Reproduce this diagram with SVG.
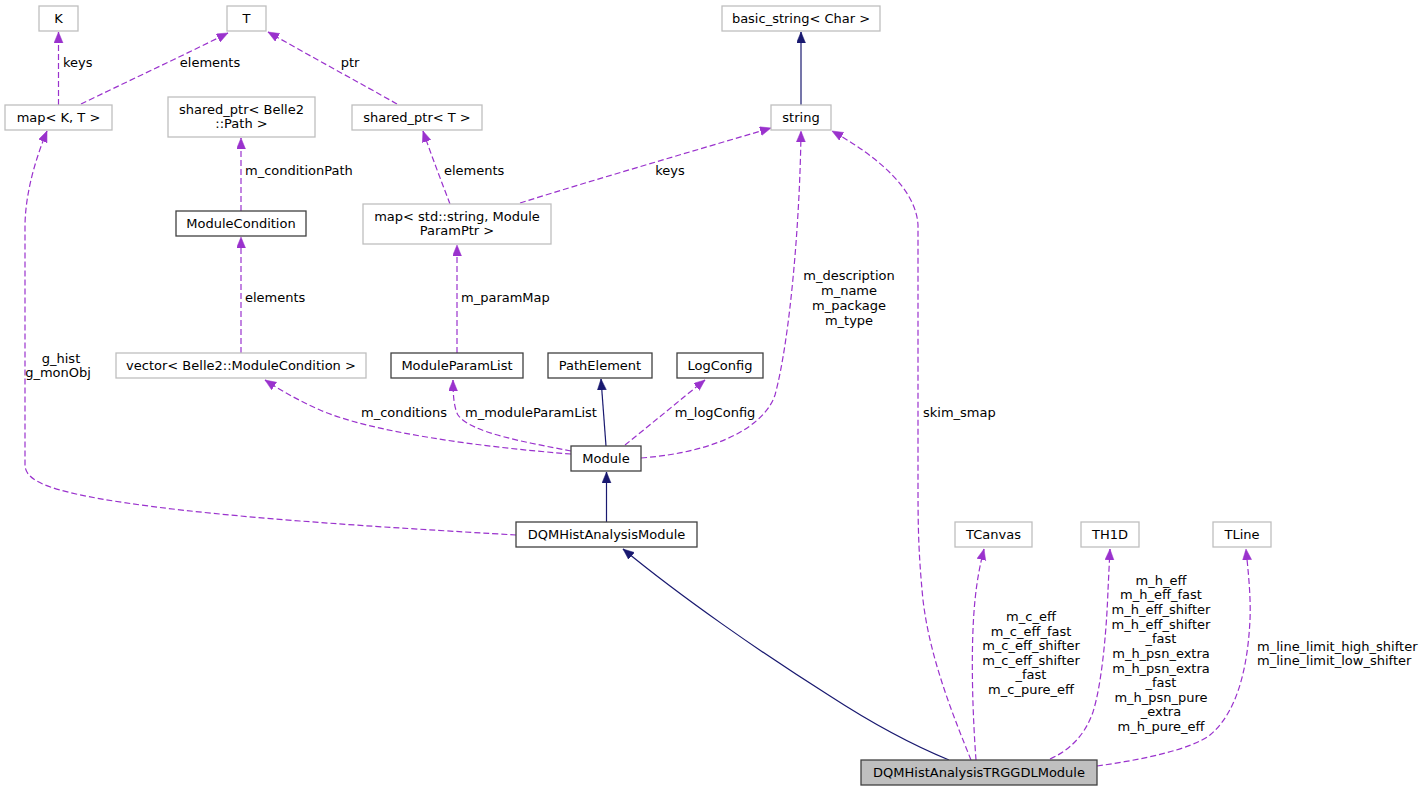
<svg xmlns="http://www.w3.org/2000/svg" width="1427" height="792" viewBox="0 0 1427 792">
<style>
text{font-family:"DejaVu Sans","Liberation Sans",sans-serif;font-size:13px;fill:#000}
.c{text-anchor:middle}
.g{fill:#fff;stroke:#bfbfbf;stroke-width:1.3}
.b{fill:#fff;stroke:#404040;stroke-width:1.3}
.f{fill:#bfbfbf;stroke:#404040;stroke-width:1.3}
.dep{fill:none;stroke:#9a32cd;stroke-width:1.2;stroke-dasharray:6,3;marker-end:url(#ap)}
.inh{fill:none;stroke:#191970;stroke-width:1.2;marker-end:url(#an)}
</style>
<defs>
<marker id="ap" markerUnits="userSpaceOnUse" markerWidth="12" markerHeight="10" refX="11" refY="4.5" orient="auto"><path d="M0,0 L11,4.5 L0,9 z" fill="#9a32cd" stroke="#9a32cd" stroke-width="0.5"/></marker>
<marker id="an" markerUnits="userSpaceOnUse" markerWidth="12" markerHeight="10" refX="11" refY="4.5" orient="auto"><path d="M0,0 L11,4.5 L0,9 z" fill="#191970" stroke="#191970" stroke-width="0.5"/></marker>
</defs>
<rect width="1427" height="792" fill="#fff"/>
<g id="connectors">
<path class="dep" d="M58.5,105 L58.5,32"/>
<text x="63" y="67">keys</text>
<path class="dep" d="M81,104 C120,85 180,57 228,33"/>
<text class="c" x="210" y="67">elements</text>
<path class="dep" d="M397,104 C360,83 310,56 268,32"/>
<text class="c" x="350" y="67">ptr</text>
<path class="dep" d="M241,211 L241,138"/>
<text x="245" y="175">m_conditionPath</text>
<path class="dep" d="M450,204 C442,183 432,157 423,131"/>
<text x="444" y="175">elements</text>
<path class="dep" d="M520,203 C600,178 690,152 771,128"/>
<text class="c" x="670" y="175">keys</text>
<path class="inh" d="M801,105 L801,32"/>
<path class="dep" d="M241,353 L241,237"/>
<text x="245" y="302">elements</text>
<path class="dep" d="M457,353 L457,245"/>
<text x="461" y="302">m_paramMap</text>
<path class="dep" d="M571,454 C480,447 370,432 320,410 C300,401 283,392 265,380"/>
<text class="c" x="404" y="417">m_conditions</text>
<path class="dep" d="M571,451 C530,443 470,433 458,415 C454,408 453,395 453,380"/>
<text class="c" x="531" y="417">m_moduleParamList</text>
<path class="inh" d="M606,446 L601,379"/>
<path class="dep" d="M625,445 C650,425 680,400 705,380"/>
<text class="c" x="715" y="417">m_logConfig</text>
<path class="dep" d="M641,458 C720,452 765,425 775,395 C790,340 800,220 801,131"/>
<text class="c" x="849" y="280">m_description</text>
<text class="c" x="849" y="295">m_name</text>
<text class="c" x="849" y="310">m_package</text>
<text class="c" x="849" y="325">m_type</text>
<path class="inh" d="M606.5,522 L606.5,472"/>
<path class="dep" d="M516,535 C400,528 150,515 60,490 C35,483 25,475 25,465 L25,227 C25,195 35,160 47,131"/>
<text class="c" x="61" y="363">g_hist</text>
<text class="c" x="58" y="377">g_monObj</text>
<path class="inh" d="M949,760 C915,746 870,722 830,696 C760,652 680,596 623,549"/>
<path class="dep" d="M971,760 C955,720 930,660 923,600 C918,550 918,520 918,480 L918,225 C916,190 880,158 832,131"/>
<text x="923" y="417">skim_smap</text>
<path class="dep" d="M976,760 C973,720 970,650 975,600 C977,580 980,565 984,549"/>
<text class="c" x="1031" y="621">m_c_eff</text>
<text class="c" x="1031" y="636">m_c_eff_fast</text>
<text class="c" x="1031" y="650">m_c_eff_shifter</text>
<text class="c" x="1031" y="665">m_c_eff_shifter</text>
<text class="c" x="1031" y="679">_fast</text>
<text class="c" x="1031" y="694">m_c_pure_eff</text>
<path class="dep" d="M1050,759 C1070,750 1085,735 1093,712 C1103,680 1107,620 1108,590 L1110,549"/>
<text class="c" x="1161" y="585">m_h_eff</text>
<text class="c" x="1161" y="599">m_h_eff_fast</text>
<text class="c" x="1161" y="614">m_h_eff_shifter</text>
<text class="c" x="1161" y="629">m_h_eff_shifter</text>
<text class="c" x="1161" y="643">_fast</text>
<text class="c" x="1161" y="658">m_h_psn_extra</text>
<text class="c" x="1161" y="673">m_h_psn_extra</text>
<text class="c" x="1161" y="687">_fast</text>
<text class="c" x="1161" y="702">m_h_psn_pure</text>
<text class="c" x="1161" y="716">_extra</text>
<text class="c" x="1161" y="731">m_h_pure_eff</text>
<path class="dep" d="M1097,766 C1140,760 1190,750 1210,735 C1240,710 1248,660 1250,620 C1251,595 1248,570 1246,549"/>
<text x="1257" y="651">m_line_limit_high_shifter</text>
<text x="1257" y="665">m_line_limit_low_shifter</text>
</g>
<g id="K"><rect class="g" x="39" y="6" width="39" height="25"/><text class="c" x="58.5" y="23">K</text></g>
<g id="T"><rect class="g" x="227" y="6" width="39" height="25"/><text class="c" x="246.5" y="23">T</text></g>
<g id="basic_string"><rect class="g" x="722" y="6" width="158" height="25"/><text class="c" x="801" y="23">basic_string&lt; Char &gt;</text></g>
<g id="mapKT"><rect class="g" x="5" y="105" width="107" height="25"/><text class="c" x="58.5" y="122">map&lt; K, T &gt;</text></g>
<g id="shared_ptr_path"><rect class="g" x="168" y="97" width="147" height="40"/><text class="c" x="241.5" y="113.5">shared_ptr&lt; Belle2</text><text class="c" x="241.5" y="128">::Path &gt;</text></g>
<g id="shared_ptrT"><rect class="g" x="352" y="105" width="130" height="25"/><text class="c" x="417" y="122">shared_ptr&lt; T &gt;</text></g>
<g id="string"><rect class="g" x="771" y="105" width="60" height="25"/><text class="c" x="801" y="122">string</text></g>
<g id="ModuleCondition"><rect class="b" x="176" y="211" width="130" height="25"/><text class="c" x="241" y="228">ModuleCondition</text></g>
<g id="map_string"><rect class="g" x="363" y="204" width="188" height="40"/><text class="c" x="457" y="220.5">map&lt; std::string, Module</text><text class="c" x="457" y="235">ParamPtr &gt;</text></g>
<g id="vector"><rect class="g" x="116" y="353" width="250" height="25"/><text class="c" x="241" y="370">vector&lt; Belle2::ModuleCondition &gt;</text></g>
<g id="ModuleParamList"><rect class="b" x="391" y="353" width="132" height="25"/><text class="c" x="457" y="370">ModuleParamList</text></g>
<g id="PathElement"><rect class="b" x="548" y="353" width="104" height="25"/><text class="c" x="600" y="370">PathElement</text></g>
<g id="LogConfig"><rect class="b" x="677" y="353" width="86" height="25"/><text class="c" x="720" y="370">LogConfig</text></g>
<g id="Module"><rect class="b" x="571" y="446" width="70" height="25"/><text class="c" x="606" y="463">Module</text></g>
<g id="DQMHistAnalysisModule"><rect class="b" x="516" y="522" width="181" height="25"/><text class="c" x="606.5" y="539">DQMHistAnalysisModule</text></g>
<g id="TCanvas"><rect class="g" x="955" y="522" width="77" height="25"/><text class="c" x="993.5" y="539">TCanvas</text></g>
<g id="TH1D"><rect class="g" x="1081" y="522" width="58" height="25"/><text class="c" x="1110" y="539">TH1D</text></g>
<g id="TLine"><rect class="g" x="1213" y="522" width="58" height="25"/><text class="c" x="1242" y="539">TLine</text></g>
<g id="DQMHistAnalysisTRGGDLModule"><rect class="f" x="861" y="760" width="236" height="25"/><text class="c" x="979" y="777">DQMHistAnalysisTRGGDLModule</text></g>
</svg>
